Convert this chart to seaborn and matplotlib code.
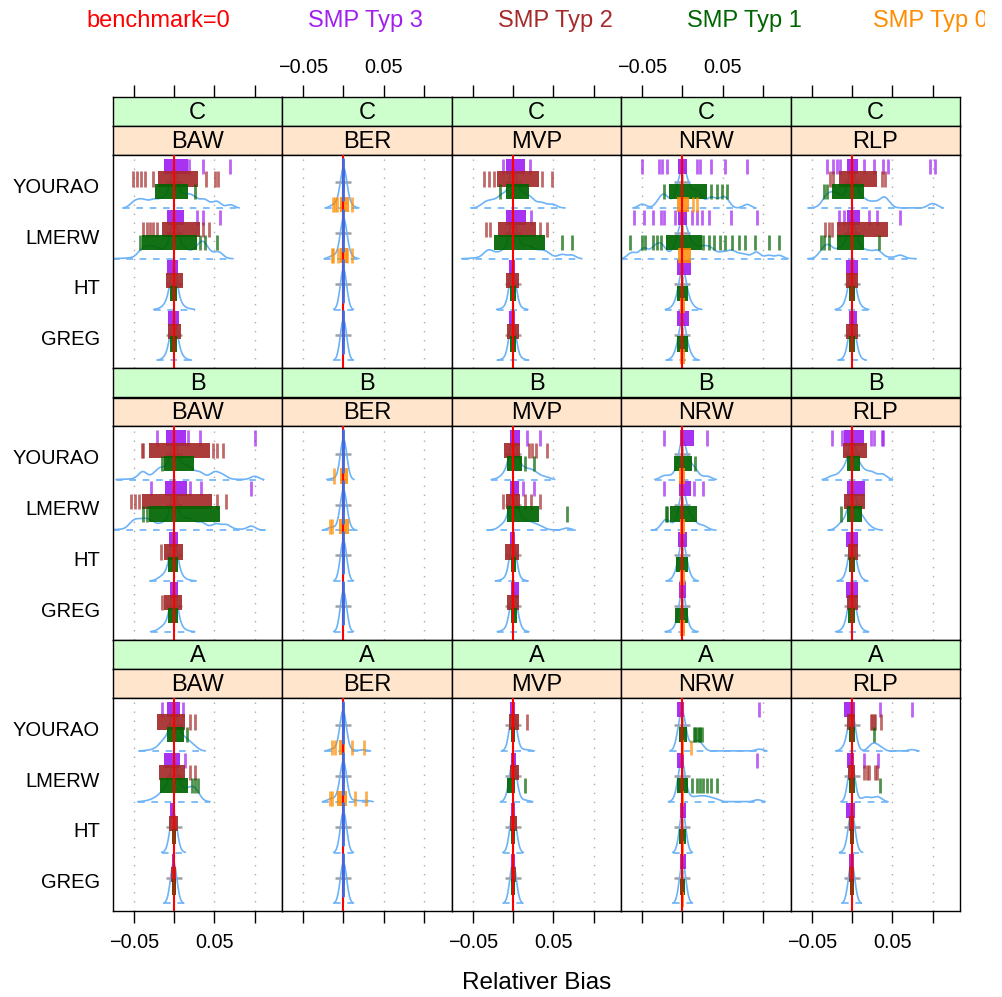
import numpy as np
import pandas as pd
import matplotlib
matplotlib.use("Agg")
import matplotlib.pyplot as plt
import seaborn as sns
from matplotlib.patches import Rectangle
from matplotlib.transforms import Bbox

sns.set_theme(style="white")
plt.rcParams["font.family"] = ["Liberation Sans", "DejaVu Sans"]

# ---------------- data ----------------
ROWS = ["C", "B", "A"]
COLS = ["BAW", "BER", "MVP", "NRW", "RLP"]
CATS = ["YOURAO", "LMERW", "HT", "GREG"]
TYPES = ["SMP Typ 3", "SMP Typ 2", "SMP Typ 1", "SMP Typ 0"]
LEGEND_LABELS = ["benchmark=0", "SMP Typ 3", "SMP Typ 2", "SMP Typ 1", "SMP Typ 0"]
X_TICKS = [-0.05, 0.0, 0.05, 0.1]
X_TICK_LABELS = ["\u22120.05", "", "0.05", ""]
BENCHMARK = 0.0
X_LABEL = "Relativer Bias"

ZERO4 = [[0, 0], [0, 0], [0, 0], [0, 0]]
TINY4 = [[-0.001, 0.001], [-0.001, 0.001], [-0.001, 0.001], [-0.001, 0.001]]
NONE4 = [[], [], [], []]

# dense part (box) per [row][col][category] for each sample type
typ3_box = [
    [[[-0.012, 0.017], [-0.009, 0.012], [-0.009, 0.005], [-0.007, 0.006]],
     ZERO4,
     [[-0.009, 0.015], [-0.009, 0.016], [-0.005, 0.003], [-0.005, 0.002]],
     [[-0.005, 0.006], [-0.005, 0.005], [-0.007, 0.010], [-0.007, 0.008]],
     [[-0.006, 0.008], [-0.006, 0.010], [-0.008, 0.008], [-0.004, 0.006]]],
    [[[-0.010, 0.015], [-0.011, 0.016], [-0.006, 0.005], [-0.005, 0.005]],
     ZERO4,
     [[-0.004, 0.009], [-0.004, 0.007], [-0.004, 0.003], [-0.003, 0.007]],
     [[-0.003, 0.014], [-0.0045, 0.010], [-0.006, 0.006], [-0.0045, 0.004]],
     [[-0.010, 0.0145], [-0.006, 0.0165], [-0.007, 0.008], [-0.008, 0.008]]],
    [[[-0.009, 0.0074], [-0.012, 0.0074], [-0.005, 0.001], [-0.003, 0.001]],
     ZERO4,
     [[-0.004, 0.003], [-0.003, 0.004], [-0.002, 0.002], [-0.002, 0.002]],
     [[-0.0074, 0.0017], [-0.0066, 0.0017], [-0.003, 0.004], [-0.003, 0.004]],
     [[-0.010, 0.004], [-0.006, 0.002], [-0.007, 0.004], [-0.004, 0.002]]],
]
typ3_rug = [
    [[[0.019, 0.036, 0.070], [0.028, 0.036, 0.057], [], []],
     NONE4,
     [[-0.012, 0.021], [0.022], [], []],
     [[-0.050, -0.029, -0.025, -0.019, 0.018, 0.022, 0.035, 0.053, 0.080],
      [-0.060, -0.048, -0.036, -0.027, -0.023, -0.009, 0.012, 0.018, 0.024, 0.033, 0.060, 0.093], [], []],
     [[-0.031, -0.023, -0.019, -0.0145, 0.0145, 0.027, 0.039, 0.045, 0.097, 0.103],
      [-0.0165, -0.0103, 0.021, 0.031, 0.060], [], []]],
    [[[-0.0215, 0.018, 0.032, 0.100], [-0.028, 0.020, 0.034, 0.096], [], []],
     NONE4,
     [[0.0176, 0.034], [0.013, 0.026], [], []],
     [[-0.023, 0.031], [-0.023, 0.014, 0.026], [], []],
     [[-0.025, -0.012, 0.023, 0.027, 0.037, 0.039], [], [], []]],
    [[[-0.015, 0.0116], [0.0136], [], []],
     NONE4,
     NONE4,
     [[0.095], [0.093], [], []],
     [[0.035, 0.074], [0.0145, 0.032], [], []]],
]

typ2_box = [
    [[[-0.0195, 0.030], [-0.015, 0.032], [-0.010, 0.011], [-0.008, 0.009]],
     ZERO4,
     [[-0.020, 0.032], [-0.018, 0.028], [-0.009, 0.007], [-0.008, 0.008]],
     None,
     [[-0.0165, 0.031], [-0.018, 0.045], [-0.007, 0.007], [-0.007, 0.007]]],
    [[[-0.031, 0.045], [-0.040, 0.047], [-0.013, 0.011], [-0.013, 0.010]],
     ZERO4,
     [[-0.011, 0.009], [-0.009, 0.0085], [-0.010, 0.007], [-0.008, 0.008]],
     None,
     [[-0.011, 0.019], [-0.0095, 0.0165], [-0.005, 0.007], [-0.006, 0.007]]],
    [[[-0.021, 0.0136], [-0.018, 0.0136], [-0.006, 0.0054], [-0.004, 0.003]],
     ZERO4,
     [[-0.005, 0.007], [-0.004, 0.007], [-0.004, 0.005], [-0.003, 0.004]],
     None,
     [[-0.006, 0.004], [-0.005, 0.004], [-0.004, 0.003], [-0.004, 0.003]]],
]
typ2_rug = [
    [[[-0.051, -0.046, -0.041, -0.036, -0.026, 0.040, 0.051, 0.055],
      [-0.038, -0.034, -0.030, -0.026, -0.021, 0.036, 0.043], [], []],
     NONE4,
     [[-0.036, -0.030, -0.024, 0.036, 0.049], [-0.033, -0.028, 0.034, 0.042], [], []],
     NONE4,
     [[-0.027, -0.023, 0.037, 0.041], [-0.033, -0.029, -0.025], [], []]],
    [[[-0.040, -0.038, 0.049, 0.053, 0.061], [-0.053, -0.048, -0.044, 0.053, 0.065], [-0.016], [-0.015]],
     NONE4,
     [[0.020, 0.024, 0.028, 0.042], [-0.013, 0.0155, 0.022, 0.034], [], []],
     NONE4,
     NONE4],
    [[[0.020, 0.026], [0.020, 0.026], [], []],
     NONE4,
     [[0.0176], [], [], []],
     NONE4,
     [[0.023, 0.025, 0.027, 0.029, 0.036], [0.0145, 0.019, 0.021, 0.029, 0.031], [], []]],
]

typ1_box = [
    [[[-0.0236, 0.0178], [-0.040, 0.028], [-0.005, 0.004], [-0.005, 0.004]],
     ZERO4,
     [[-0.009, 0.020], [-0.024, 0.040], [-0.004, 0.0035], [-0.004, 0.0035]],
     [[-0.017, 0.031], [-0.021, 0.024], [-0.0066, 0.0066], [-0.0066, 0.0066]],
     [[-0.025, 0.0145], [-0.018, 0.0145], [-0.004, 0.004], [-0.004, 0.004]]],
    [[[-0.013, 0.025], [-0.031, 0.057], [-0.008, 0.005], [-0.008, 0.005]],
     ZERO4,
     [[-0.008, 0.011], [-0.008, 0.032], [-0.003, 0.004], [-0.003, 0.005]],
     [[-0.011, 0.012], [-0.015, 0.018], [-0.008, 0.007], [-0.009, 0.007]],
     [[-0.006, 0.010], [-0.006, 0.012], [-0.004, 0.004], [-0.005, 0.004]]],
    [[[-0.009, 0.012], [-0.017, 0.018], [-0.003, 0.003], [-0.0025, 0.0025]],
     ZERO4,
     [[-0.003, 0.003], [-0.007, 0.003], [-0.002, 0.002], [-0.002, 0.002]],
     [[-0.0045, 0.0058], [-0.0066, 0.0066], [-0.004, 0.004], [-0.003, 0.003]],
     [[-0.004, 0.004], [-0.004, 0.004], [-0.003, 0.002], [-0.003, 0.002]]],
]
typ1_rug = [
    [[[0.026], [-0.042, 0.032, 0.038, 0.053], [], []],
     NONE4,
     [[-0.016], [0.061, 0.073], [], []],
     [[-0.023, 0.035, 0.043, 0.049, 0.055],
      [-0.065, -0.050, -0.046, -0.036, -0.031, -0.027, 0.026, 0.033, 0.039, 0.047,
       0.053, 0.062, 0.070, 0.078, 0.090, 0.107, 0.120], [], []],
     [[-0.035, -0.031], [-0.039, -0.035, -0.029, 0.033], [], []]],
    [[[-0.015], [-0.038, -0.034], [], []],
     NONE4,
     [[0.0155, 0.026], [0.067], [], []],
     [[0.016], [-0.021, -0.019], [], []],
     [[], [-0.014], [], []]],
    [[[0.0157], [0.022, 0.026, 0.030], [], []],
     NONE4,
     [[], [0.0155], [], []],
     [[0.014, 0.016, 0.018, 0.020, 0.022, 0.024],
      [0.012, 0.018, 0.022, 0.026, 0.031, 0.035, 0.043], [], []],
     [[0.027], [0.035], [], []]],
]

typ0_box = [
    [TINY4,
     [[-0.004, 0.007], [-0.004, 0.006], [-0.001, 0.001], [-0.001, 0.001]],
     TINY4,
     [[-0.007, 0.008], [-0.005, 0.010], [-0.003, 0.003], [-0.003, 0.003]],
     TINY4],
    [TINY4,
     [[-0.004, 0.005], [-0.006, 0.007], [-0.001, 0.001], [-0.001, 0.001]],
     TINY4,
     [[-0.0045, 0.0037], [-0.003, 0.003], [-0.003, 0.003], [-0.003, 0.003]],
     TINY4],
    [TINY4,
     [[-0.006, 0.002], [-0.008, 0.004], [-0.001, 0.001], [-0.001, 0.001]],
     TINY4,
     [[-0.002, 0.002], [-0.002, 0.002], [-0.002, 0.002], [-0.002, 0.002]],
     TINY4],
]
typ0_rug = [
    [NONE4,
     [[-0.013, -0.011, -0.008, 0.010], [-0.0145, -0.0124, -0.0074, 0.0041, 0.0103], [], []],
     NONE4,
     [[0.013, 0.018], [], [], []],
     NONE4],
    [NONE4,
     [[-0.012], [-0.0165, -0.0145], [], []],
     NONE4, NONE4, NONE4],
    [NONE4,
     [[-0.0145, -0.010, 0.010, 0.025], [-0.0165, -0.0145, 0.0145, 0.028], [], []],
     NONE4,
     [[0.010], [], [], []],
     NONE4],
]

# ---------------- style ----------------
TYPE_COLORS = ["#A020F0", "#A52A2A", "#006400", "#FF8C00"]
LEGEND_COLORS = ["#FF0000"] + TYPE_COLORS
DENS_COLOR = "#6DB3F7"
OFFS = [-0.375, -0.125, 0.125, 0.375]
H = 0.30
XLIM = (-0.076, 0.1342)
YLIM = (3.6, -0.6)

W, HPX = 1003, 997
fig = plt.figure(figsize=(W / 100, HPX / 100), dpi=100)

LEFT0, COLW = 112.7, 169.5
ROW0, ROWH, STRIPH, PANH = 97.0, 271.5, 29.0, 213.0


def fpos(x, y, w, h):
    return [x / W, 1 - (y + h) / HPX, w / W, h / HPX]


boxes_all = [typ3_box, typ2_box, typ1_box, typ0_box]
rugs_all = [typ3_rug, typ2_rug, typ1_rug, typ0_rug]
xs = np.linspace(XLIM[0], XLIM[1], 700)


def style_frame(ax):
    for s in ax.spines.values():
        s.set_color("black")
        s.set_linewidth(1.0)
        s.set_visible(True)


for r, rname in enumerate(ROWS):
    for c, cname in enumerate(COLS):
        x0 = LEFT0 + c * COLW
        ytop = ROW0 + r * ROWH
        # strips
        for s_i, (lab, fc) in enumerate([(rname, "#CCFFCC"), (cname, "#FFE5CC")]):
            sax = fig.add_axes(fpos(x0, ytop + s_i * STRIPH, COLW, STRIPH))
            sax.set_facecolor(fc)
            sax.set_xlim(XLIM)
            sax.set_ylim(0, 1)
            sax.set_yticks([])
            style_frame(sax)
            sax.text(0.5, 0.45, lab, transform=sax.transAxes, ha="center", va="center",
                     fontsize=17, color="black")
            if r == 0 and s_i == 0:
                sax.xaxis.set_ticks_position("top")
                sax.set_xticks(X_TICKS)
                sax.set_xticklabels(X_TICK_LABELS if c in (1, 3) else [""] * 4, fontsize=14.3)
                sax.tick_params(axis="x", direction="out", length=8.6, width=1, colors="black",
                                pad=6, top=True, bottom=False, labeltop=True, labelbottom=False)
            else:
                sax.set_xticks([])

        ax = fig.add_axes(fpos(x0, ytop + 2 * STRIPH, COLW, PANH))
        ax.set_facecolor("white")
        ax.set_xlim(XLIM)
        ax.set_ylim(YLIM)
        style_frame(ax)
        for gx in X_TICKS:
            ax.axvline(gx, color="#AAAAAA", lw=1.0, ls=(0, (1, 5.5)), zorder=0.5)

        # grey markers at zero
        for j in range(4):
            ax.plot([BENCHMARK], [j - 0.06], marker="+", ms=12, mew=1.8, color="#A0A0A0", zorder=1.8)

        # density per category (derived from the values below), drawn under the boxes
        for j in range(4):
            dens = np.zeros_like(xs)
            for k in range(4):
                bx = boxes_all[k][r][c]
                if bx is None:
                    continue
                lo, hi = bx[j]
                sd = max((hi - lo) / 2.0, 0.004)
                dens += 6.0 * np.exp(-0.5 * ((xs - (lo + hi) / 2) / sd) ** 2) / sd
                for t in rugs_all[k][r][c][j]:
                    dens += np.exp(-0.5 * ((xs - t) / 0.005) ** 2) / 0.005
            dens = dens / dens.max() * 0.8
            base = j + 0.45
            keep = dens > 0.006
            xk = xs[keep]
            df = pd.DataFrame({"x": xk, "y": base - dens[keep]})
            sns.lineplot(data=df, x="x", y="y", ax=ax, color=DENS_COLOR, lw=1.2,
                         estimator=None, sort=False, zorder=1.9, legend=False)
            ax.plot([xk.min(), xk.max()], [base, base], color=DENS_COLOR, lw=1.2,
                    ls=(0, (4, 4)), zorder=1.9)

        # per type boxes and rugs
        for k in range(4):
            bx = boxes_all[k][r][c]
            rg = rugs_all[k][r][c]
            if bx is None:
                continue
            for j in range(4):
                lo, hi = bx[j]
                y0 = j + OFFS[k] - H / 2
                if hi - lo < 1e-6:
                    ax.plot([lo, lo], [y0, y0 + H + 0.02], color="#4169E1", lw=2.0, zorder=3.5)
                else:
                    ax.add_patch(Rectangle((lo, y0), hi - lo, H, facecolor=TYPE_COLORS[k],
                                           edgecolor="none", alpha=0.92 if k < 3 else 0.85,
                                           zorder=2 + 0.1 * k))
                for t in rg[j]:
                    ax.vlines(t, y0, y0 + H, color=TYPE_COLORS[k], alpha=0.7, lw=2.0,
                              zorder=2 + 0.1 * k)

        # benchmark line
        ax.axvline(BENCHMARK, color="#FF0000", lw=1.5, zorder=3)

        ax.set_xlabel("")
        ax.set_ylabel("")
        ax.set_xticks(X_TICKS)
        if r == 2:
            ax.set_xticklabels(X_TICK_LABELS if c in (0, 2, 4) else [""] * 4, fontsize=14.3)
            ax.tick_params(axis="x", direction="out", length=8.6, width=1, colors="black",
                           pad=7, bottom=True, labelbottom=True)
        else:
            ax.tick_params(axis="x", length=0, labelbottom=False)
        if c == 0:
            ax.set_yticks(range(4))
            ax.set_yticklabels(CATS, fontsize=14.5)
            ax.tick_params(axis="y", length=0, pad=9, colors="black")
        else:
            ax.set_yticks([])
        ax.set_ylim(YLIM)

# legend across top (the last entry is cut at the right edge, as in the original)
clip = Bbox.from_extents(0, 0, 985, HPX)
for lab, col, xc in zip(LEGEND_LABELS, LEGEND_COLORS, [158, 365, 555, 744, 930.5]):
    t = fig.text(xc / W, 1 - 21 / HPX, lab, color=col, fontsize=17, ha="center", va="center")
    t.set_clip_box(clip)
    t.set_clip_on(True)

fig.text(537 / W, 1 - 983 / HPX, X_LABEL, fontsize=17.5, ha="center", va="center", color="black")

fig.savefig("out.png", dpi=100)
